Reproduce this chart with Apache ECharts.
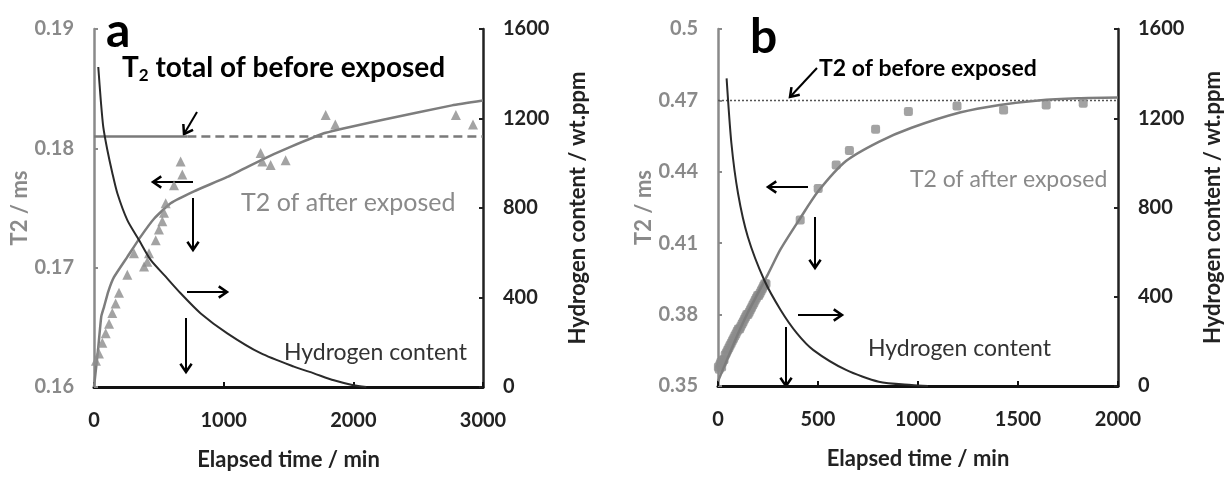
<!DOCTYPE html>
<html><head><meta charset="utf-8">
<script src="https://cdn.jsdelivr.net/npm/echarts@6/dist/echarts.min.js"></script>
<style>html,body{margin:0;padding:0;background:#fff}#c{width:1225px;height:477px}</style>
</head><body><div id="c"></div>
<script>
// ---------- Panel a data ----------
const aXTicks = [0, 1000, 2000, 3000];
const aT2Ticks = [0.16, 0.17, 0.18, 0.19];
const aHTicks = [0, 400, 800, 1200, 1600];
const aT2Before = 0.181;
const aSolidEndTime = 720;
const aTriTime = [15, 38, 64, 90, 116, 141, 167, 193, 257, 308, 386, 411, 424, 476, 501, 527, 540, 553, 617, 668, 681, 1285, 1298, 1362, 1478, 1787, 1861, 2791, 2923];
const aTriT2   = [0.1622, 0.1628, 0.1637, 0.1645, 0.1653, 0.1662, 0.1670, 0.1679, 0.1694, 0.1712, 0.1701, 0.1705, 0.1712, 0.1723, 0.1732, 0.1739, 0.1746, 0.1754, 0.1769, 0.1789, 0.1778, 0.1796, 0.1789, 0.1786, 0.1790, 0.1828, 0.1820, 0.1828, 0.1820];
const aFitTime = [0, 15, 31, 56, 77, 110, 154, 257, 360, 463, 591, 771, 1028, 1285, 1511, 1787, 2229, 2761, 3000];
const aFitT2   = [0.1600, 0.1615, 0.1631, 0.1659, 0.1667, 0.1680, 0.1692, 0.1709, 0.1726, 0.1741, 0.1754, 0.1764, 0.1776, 0.1790, 0.1801, 0.1813, 0.1824, 0.1836, 0.1840];
const aHTime = [33, 52, 72, 103, 140, 180, 257, 347, 437, 553, 668, 823, 1028, 1285, 1542, 1696, 1850, 2000, 2100];
const aHVal  = [1430, 1283, 1160, 1059, 960, 866, 746, 657, 568, 493, 419, 329, 240, 151, 91, 61, 30, 8, 0];

// ---------- Panel b data ----------
const bXTicks = [0, 500, 1000, 1500, 2000];
const bT2Ticks = [0.35, 0.38, 0.41, 0.44, 0.47, 0.5];
const bHTicks = [0, 400, 800, 1200, 1600];
const bT2Before = 0.47;
const bSqTime = [2, 6, 10, 14, 18, 22, 26, 30, 36, 42, 48, 54, 60, 66, 72, 78, 84, 90, 96, 102, 108, 114, 120, 126, 132, 138, 144, 150, 156, 162, 168, 174, 180, 186, 192, 198, 204, 210, 216, 222, 228, 234, 240, 411, 501, 591, 657, 788, 952, 1195, 1428, 1641, 1826];
const bSqT2   = [0.358, 0.357, 0.359, 0.360, 0.358, 0.360, 0.361, 0.361, 0.363, 0.364, 0.365, 0.366, 0.367, 0.368, 0.369, 0.370, 0.371, 0.372, 0.373, 0.374, 0.374, 0.375, 0.376, 0.377, 0.378, 0.379, 0.380, 0.380, 0.381, 0.382, 0.383, 0.384, 0.385, 0.386, 0.387, 0.388, 0.388, 0.389, 0.390, 0.391, 0.392, 0.393, 0.393, 0.4197, 0.4330, 0.4429, 0.4489, 0.4579, 0.4653, 0.4676, 0.4660, 0.4681, 0.4688];
const bFitTime = [0, 50, 100, 150, 200, 250, 313, 411, 501, 640, 804, 968, 1214, 1408, 1602, 1800, 2000];
const bFitT2   = [0.352, 0.362, 0.372, 0.381, 0.389, 0.397, 0.4075, 0.4205, 0.4318, 0.4445, 0.4526, 0.4585, 0.4650, 0.4681, 0.4700, 0.4709, 0.4712];
const bHTime = [43, 67, 100, 149, 231, 313, 395, 477, 640, 804, 968, 1050];
const bHVal  = [1379, 1088, 864, 669, 475, 341, 236, 161, 72, 19, 4, 0];

const zip = (xs, ys) => xs.map((x, i) => [x, ys[i]]);

const FONT = 'Lato, "Open Sans", sans-serif';
const GRAY = '#8a8a8a';
const DARK = '#222';
const plain = v => String(v);

function xAxisCfg(gi, max, interval) {
  return {
    gridIndex: gi, type: 'value', min: 0, max: max, interval: interval,
    axisLine: {show: true, lineStyle: {color: '#111', width: 3}},
    axisTick: {show: true, inside: true, length: 5, lineStyle: {color: '#111', width: 2}},
    axisLabel: {color: DARK, fontSize: 20, fontWeight: 'bold', margin: 24, fontFamily: FONT, formatter: plain},
    splitLine: {show: false},
    name: 'Elapsed time / min', nameLocation: 'middle', nameGap: 62,
    nameTextStyle: {fontSize: 22, fontWeight: 'bold', color: DARK, fontFamily: FONT}
  };
}
function leftAxisCfg(gi, min, max, ticks, gap) {
  return {
    gridIndex: gi, type: 'value', position: 'left', min: min, max: max,
    axisLine: {show: true, lineStyle: {color: GRAY, width: 2.5}},
    axisTick: {show: true, inside: true, length: 4, customValues: ticks, lineStyle: {color: GRAY, width: 2}},
    axisLabel: {color: GRAY, fontSize: 20, fontWeight: 'bold', margin: 20, fontFamily: FONT, customValues: ticks, formatter: plain},
    splitLine: {show: false},
    name: 'T2 / ms', nameLocation: 'middle', nameGap: gap, nameRotate: 90,
    nameTextStyle: {fontSize: 22, fontWeight: 'bold', color: GRAY, fontFamily: FONT}
  };
}
function rightAxisCfg(gi, ticks, gap) {
  return {
    gridIndex: gi, type: 'value', position: 'right', min: 0, max: 1600, interval: 400,
    axisLine: {show: true, lineStyle: {color: DARK, width: 2.5}},
    axisTick: {show: true, inside: true, length: 4, lineStyle: {color: DARK, width: 2}},
    axisLabel: {color: DARK, fontSize: 20, fontWeight: 'bold', margin: 20, fontFamily: FONT, formatter: plain},
    splitLine: {show: false},
    name: 'Hydrogen content / wt.ppm', nameLocation: 'middle', nameGap: gap, nameRotate: 90,
    nameTextStyle: {fontSize: 22, fontWeight: 'bold', color: DARK, fontFamily: FONT}
  };
}

function arrow(x1, y1, x2, y2) {
  const ang = Math.atan2(y2 - y1, x2 - x1);
  const L = 10, w = 0.6;
  const p1 = [x2 - L * Math.cos(ang - w), y2 - L * Math.sin(ang - w)];
  const p2 = [x2 - L * Math.cos(ang + w), y2 - L * Math.sin(ang + w)];
  return [
    {type: 'line', shape: {x1: x1, y1: y1, x2: x2, y2: y2}, style: {stroke: '#000', lineWidth: 2}},
    {type: 'polyline', shape: {points: [p1, [x2, y2], p2]}, style: {stroke: '#000', lineWidth: 2.5, fill: null}}
  ];
}
function txt(x, y, text, size, color, weight) {
  return {type: 'text', x: x, y: y, style: {text: text, fontSize: size, fill: color, fontWeight: weight || 'normal', fontFamily: FONT, textVerticalAlign: 'middle', textAlign: 'left'}};
}

const graphics = [].concat(
  txt(106, 32, 'a', 48, '#000', 'bold'),
  [{type: 'text', x: 122, y: 68, style: {
    text: '{m|T}{s|2}{m| total of before exposed}', fontFamily: FONT, textVerticalAlign: 'middle',
    rich: {m: {fontSize: 28, fontWeight: 'bold', fill: '#000', fontFamily: FONT, lineHeight: 32},
           s: {fontSize: 17, fontWeight: 'bold', fill: '#000', fontFamily: FONT, lineHeight: 32, verticalAlign: 'bottom', padding: [10, 0, 0, 0]}}
  }}],
  arrow(197, 112, 184, 134),
  txt(241, 203, 'T2 of after exposed', 25, GRAY, 'normal'),
  txt(284, 353, 'Hydrogen content', 23, '#333', 'normal'),
  arrow(193, 182, 153, 182),
  arrow(193, 198, 193, 250),
  arrow(187, 292, 227, 292),
  arrow(186, 318, 186, 372),

  txt(750, 38, 'b', 48, '#000', 'bold'),
  txt(819, 69, 'T2 of before exposed', 23, '#000', 'bold'),
  arrow(817, 68, 790, 97),
  txt(910, 180, 'T2 of after exposed', 23, GRAY, 'normal'),
  txt(868, 349, 'Hydrogen content', 23, '#333', 'normal'),
  arrow(808, 187, 768, 187),
  arrow(815, 217, 815, 268),
  arrow(798, 315, 842, 315),
  arrow(786, 327, 786, 386)
);

const chart = echarts.init(document.getElementById('c'), null, {renderer: 'canvas'});
chart.setOption({
  backgroundColor: '#fff',
  animation: false,
  grid: [
    {left: 94, top: 29, width: 389, height: 358},
    {left: 718, top: 29, width: 407, height: 357}
  ],
  xAxis: [xAxisCfg(0, 3000, 1000), xAxisCfg(1, 2000, 500)],
  yAxis: [
    leftAxisCfg(0, 0.16, 0.19, aT2Ticks, 60),
    rightAxisCfg(0, aHTicks, 84),
    leftAxisCfg(1, 0.35, 0.5, bT2Ticks, 60),
    rightAxisCfg(1, bHTicks, 84)
  ],
  series: [
    {type: 'line', xAxisIndex: 0, yAxisIndex: 0, data: [[0, aT2Before], [aSolidEndTime, aT2Before]], showSymbol: false, lineStyle: {color: '#7a7a7a', width: 2.5}, z: 2},
    {type: 'line', xAxisIndex: 0, yAxisIndex: 0, data: [[aSolidEndTime, aT2Before], [3000, aT2Before]], showSymbol: false, lineStyle: {color: '#7a7a7a', width: 2.5, type: [9, 5]}, z: 2},
    {type: 'line', xAxisIndex: 0, yAxisIndex: 0, data: zip(aFitTime, aFitT2), smooth: 0.15, showSymbol: false, lineStyle: {color: '#7d7d7d', width: 2.5}, z: 3},
    {type: 'scatter', xAxisIndex: 0, yAxisIndex: 0, data: zip(aTriTime, aTriT2), symbol: 'triangle', symbolSize: 10, itemStyle: {color: '#8c8c8c'}, z: 4},
    {type: 'line', xAxisIndex: 0, yAxisIndex: 1, data: zip(aHTime, aHVal), smooth: 0.25, showSymbol: false, lineStyle: {color: '#2a2a2a', width: 2}, z: 5},

    {type: 'line', xAxisIndex: 1, yAxisIndex: 2, data: [[0, bT2Before], [2000, bT2Before]], showSymbol: false, lineStyle: {color: '#555', width: 1.5, type: [2, 2]}, z: 2},
    {type: 'scatter', xAxisIndex: 1, yAxisIndex: 2, data: zip(bSqTime, bSqT2), symbol: 'roundRect', symbolSize: 9, itemStyle: {color: '#8c8c8c'}, z: 3},
    {type: 'line', xAxisIndex: 1, yAxisIndex: 2, data: zip(bFitTime, bFitT2), smooth: 0.25, showSymbol: false, lineStyle: {color: '#7d7d7d', width: 2.5}, z: 4},
    {type: 'line', xAxisIndex: 1, yAxisIndex: 3, data: zip(bHTime, bHVal), smooth: 0.25, showSymbol: false, lineStyle: {color: '#2a2a2a', width: 2}, z: 5}
  ],
  graphic: graphics
});
</script></body></html>
